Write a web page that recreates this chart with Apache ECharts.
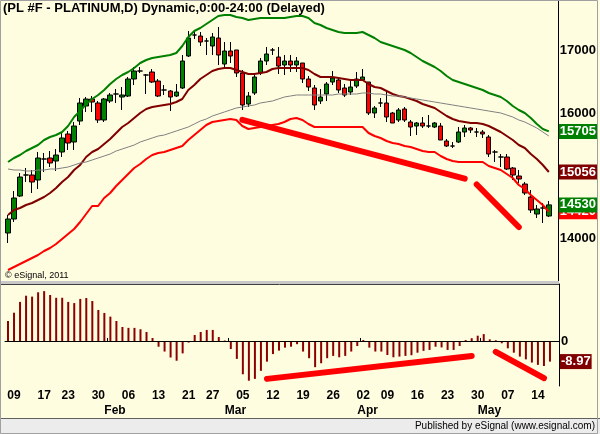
<!DOCTYPE html>
<html>
<head>
<meta charset="utf-8">
<script src="https://cdn.jsdelivr.net/npm/echarts@6/dist/echarts.min.js"></script>
<style>
  html, body { margin: 0; padding: 0; background: #fffde0; }
  #chart { width: 600px; height: 434px; }
</style>
</head>
<body>
<div id="chart"></div>
<script>
// trading days shown on the chart
var dates = [
  '2012-01-06','2012-01-09','2012-01-10','2012-01-11','2012-01-12','2012-01-13','2012-01-17','2012-01-18','2012-01-19','2012-01-20',
  '2012-01-23','2012-01-24','2012-01-25','2012-01-26','2012-01-27','2012-01-30','2012-01-31',
  '2012-02-01','2012-02-02','2012-02-03','2012-02-06','2012-02-07','2012-02-08','2012-02-09','2012-02-10','2012-02-13','2012-02-14',
  '2012-02-15','2012-02-16','2012-02-17','2012-02-21','2012-02-22','2012-02-23','2012-02-24','2012-02-27','2012-02-28','2012-02-29',
  '2012-03-01','2012-03-02','2012-03-05','2012-03-06','2012-03-07','2012-03-08','2012-03-09','2012-03-12','2012-03-13','2012-03-14',
  '2012-03-15','2012-03-16','2012-03-19','2012-03-20','2012-03-21','2012-03-22','2012-03-23','2012-03-26','2012-03-27','2012-03-28',
  '2012-03-29','2012-03-30',
  '2012-04-02','2012-04-03','2012-04-04','2012-04-05','2012-04-09','2012-04-10','2012-04-11','2012-04-12','2012-04-13','2012-04-16',
  '2012-04-17','2012-04-18','2012-04-19','2012-04-20','2012-04-23','2012-04-24','2012-04-25','2012-04-26','2012-04-27','2012-04-30',
  '2012-05-01','2012-05-02','2012-05-03','2012-05-04','2012-05-07','2012-05-08','2012-05-09','2012-05-10','2012-05-11','2012-05-14',
  '2012-05-15','2012-05-16'
];

var opens = [
  14080,14304,14672,15008,15008,14928,15264,15280,15232,15376,15664,15536,15872,16112,16224,16160,15888,16192,16304,16256,
  16272,16544,16672,16608,16656,16512,16368,16352,16272,16400,16912,17248,17232,17152,17072,17200,16784,16992,17008,16640,
  16144,16320,16640,16832,17008,16896,16768,16832,16768,16800,16544,16400,16192,16304,16496,16528,16400,16336,16432,16528,
  16496,16000,16160,16160,16000,15888,16064,15856,15792,15840,15792,15776,15792,15552,15472,15536,15696,15760,15696,15696,
  15616,15376,15296,15296,15120,14992,14864,14656,14384,14480,14352
];
var closes = [
  14304,14640,14976,15008,14896,15280,15264,15200,15328,15600,15520,15792,16160,16224,16176,15888,16224,16288,16304,16288,
  16544,16672,16672,16608,16496,16272,16368,16256,16336,16832,17200,17248,17136,17152,17216,16928,16992,16912,16640,16128,
  16272,16576,16832,16944,17008,16752,16832,16768,16832,16544,16416,16128,16256,16464,16560,16368,16288,16416,16544,16576,
  16000,16080,16160,15936,15840,16048,15888,15776,15840,15792,15792,15840,15568,15472,15472,15696,15760,15728,15696,15664,
  15344,15376,15296,15104,15008,14944,14720,14448,14464,14480,14530
];
var lows = [
  13920,14256,14656,14896,14720,14784,15056,15136,15072,15296,15408,15408,15808,16016,16016,15840,15856,16160,16160,16048,
  16256,16448,16640,16304,16480,16256,16288,16032,16256,16384,16896,17184,17072,16928,16928,16768,16736,16800,16576,16048,
  16096,16288,16608,16768,16928,16624,16608,16656,16656,16480,16352,16048,16144,16192,16448,16320,16256,16288,16400,16528,
  15968,15920,16096,15856,15840,15856,15856,15632,15648,15760,15760,15760,15568,15456,15440,15520,15616,15680,15616,15600,
  15296,15216,15136,15088,14928,14880,14688,14400,14320,14240,14336
];
var highs = [
  14368,14752,15040,15120,15088,15376,15360,15392,15424,15680,15712,15856,16240,16256,16272,16192,16240,16320,16384,16416,
  16576,16736,16736,16624,16704,16544,16448,16368,16464,16928,17312,17328,17296,17200,17280,17376,17136,17136,17008,16688,
  16336,16624,16880,17056,17040,17056,16928,16928,16896,16800,16592,16448,16384,16496,16672,16576,16464,16528,16656,16704,
  16496,16112,16240,16336,16016,16080,16096,15888,15856,15936,15968,15856,15840,15584,15536,15776,15808,15776,15760,15728,
  15648,15408,15344,15344,15136,15088,14896,14768,14528,14560,14592
];

// envelope lines
var upperBand = [
  15216,15280,15328,15392,15440,15488,15568,15616,15648,15696,15792,15936,16032,16144,16224,16288,16368,16464,16544,16608,
  16656,16720,16800,16848,16880,16896,16912,16928,16960,17072,17216,17312,17360,17424,17488,17552,17568,17568,17536,17520,
  17488,17504,17520,17520,17520,17520,17520,17536,17552,17552,17520,17440,17408,17360,17328,17296,17280,17280,17280,17296,
  17248,17200,17136,17104,17072,17040,17008,16960,16896,16832,16784,16736,16672,16592,16528,16496,16464,16432,16400,16368,
  16320,16288,16256,16192,16112,16048,16000,15920,15824,15744,15705
];
var midLine = [
  14368,14448,14480,14528,14560,14608,14656,14720,14800,14896,14976,15088,15168,15296,15376,15424,15504,15584,15680,15776,
  15840,15920,16000,16064,16096,16112,16128,16144,16176,16224,16368,16448,16544,16608,16672,16704,16720,16720,16688,16656,
  16624,16624,16640,16656,16704,16720,16720,16720,16720,16720,16688,16624,16576,16576,16576,16560,16544,16528,16528,16528,
  16464,16416,16400,16352,16304,16272,16256,16224,16192,16144,16112,16080,16016,15952,15904,15872,15856,15840,15840,15824,
  15792,15744,15696,15632,15568,15488,15440,15344,15264,15168,15056
];
var avgLine = [
  15104,15088,15088,15072,15072,15088,15088,15104,15104,15120,15136,15168,15200,15216,15248,15280,15312,15344,15392,15424,
  15456,15488,15536,15568,15600,15632,15648,15680,15712,15744,15776,15824,15872,15904,15952,15984,16016,16048,16080,16096,
  16112,16128,16160,16176,16192,16224,16256,16272,16288,16288,16288,16288,16288,16288,16288,16304,16304,16304,16304,16320,
  16320,16304,16304,16288,16272,16272,16256,16240,16224,16208,16192,16176,16160,16144,16128,16112,16096,16080,16064,16048,
  16032,16016,16000,15968,15936,15888,15856,15808,15760,15696,15632
];
var lowerBand = [
  13488,13536,13584,13632,13680,13728,13792,13840,13904,13984,14064,14144,14256,14384,14512,14512,14640,14720,14832,14928,
  15024,15120,15184,15264,15328,15360,15376,15408,15440,15472,15568,15648,15728,15808,15856,15872,15888,15904,15888,15792,
  15744,15760,15776,15792,15808,15824,15856,15904,15920,15888,15824,15776,15776,15776,15776,15776,15776,15776,15776,15776,
  15680,15632,15600,15552,15520,15504,15472,15456,15424,15392,15376,15376,15312,15264,15232,15216,15216,15216,15216,15216,
  15152,15120,15088,15024,14960,14848,14784,14688,14608,14528,14420
];

// lower panel oscillator
var oscillator = [
  8.7,12.3,17.0,19.7,19.3,21.2,21.7,20.0,18.8,18.8,17.0,16.5,18.3,18.7,17.4,13.5,12.2,10.6,8.7,6.1,
  5.7,5.7,5.1,3.9,1.3,-2.5,-4.6,-7.2,-8.6,-5.4,-0.7,2.6,3.9,4.8,4.8,1.7,0.2,-3.5,-7.8,-14.5,
  -17.3,-16.5,-13.0,-9.0,-5.7,-4.2,-2.9,-2.5,-1.4,-4.6,-7.5,-11.4,-9.7,-7.5,-6.5,-7.1,-6.5,-4.6,-2.2,0.4,
  -2.9,-4.6,-4.6,-6.1,-7.1,-6.8,-6.5,-6.2,-5.1,-4.3,-3.9,-2.5,-2.8,-3.9,-3.9,-2.2,0.4,1.2,2.3,3.0,
  0.7,0.3,-1.0,-3.2,-5.1,-6.8,-8.0,-9.4,-10.4,-10.9,-8.97
];

var priceTicks = [14000, 15000, 16000, 17000];
var oscTicks = [0];
var monthNames = ['Jan','Feb','Mar','Apr','May','Jun'];

// hand drawn trend lines: [date index, value]
var priceTrendA = [[39, 15890], [76, 14950]];
var priceTrendB = [[78, 14856], [85, 14176]];
var oscTrendA = [[43, -16.5], [77, -6.5]];
var oscTrendB = [[81, -4.7], [89, -16.2]];

var FONT = 'Liberation Sans, Arial, sans-serif';
var categories = dates.concat(['']);

function weekDay(s) { return new Date(s + 'T00:00:00Z').getUTCDay(); }
function isWeekStart(i) {
  if (i < 1 || i >= dates.length) return false;
  return weekDay(dates[i]) < weekDay(dates[i - 1]);
}
function isMonthEnd(i) {
  if (i < 0 || i >= dates.length - 1) return false;
  return dates[i].slice(5, 7) !== dates[i + 1].slice(5, 7);
}

var last = function (a) { return a[a.length - 1]; };
var lastUpper = last(upperBand), lastMid = last(midLine), lastLower = last(lowerBand);
var lastClose = last(closes), lastOsc = last(oscillator);

var candles = dates.map(function (d, i) {
  var item = { value: [opens[i], closes[i], lows[i], highs[i]] };
  if (opens[i] === closes[i]) {
    item.itemStyle = { color: '#000', color0: '#000', borderColor: '#000', borderColor0: '#000' };
  }
  return item;
});

function box(bg) {
  return { backgroundColor: bg, color: '#fff', fontWeight: 'bold', fontSize: 13, fontFamily: FONT,
           lineHeight: 13, padding: [1, 1, 1, 1] };
}
function trend(pts) {
  return [{ coord: [categories[pts[0][0]], pts[0][1]] }, { coord: [categories[pts[1][0]], pts[1][1]] }];
}
var trendStyle = { color: '#ff0000', width: 6, type: 'solid', cap: 'round' };

var chart = echarts.init(document.getElementById('chart'));
chart.setOption({
  animation: false,
  backgroundColor: '#fffde0',
  grid: [
    { left: 5, top: 0, width: 554, height: 282 },
    { left: 5, top: 284, width: 554, height: 102 }
  ],
  xAxis: [
    { type: 'category', gridIndex: 0, data: categories, show: false },
    {
      type: 'category', gridIndex: 1, data: categories,
      axisLine: { lineStyle: { color: '#000', width: 1 } },
      axisTick: { show: true, inside: true, length: 3, interval: function (i) { return isMonthEnd(i - 1); },
                  lineStyle: { color: '#000' } },
      axisLabel: {
        interval: function (i) { return isWeekStart(i); },
        formatter: function (v) { return v ? v.slice(8) : ''; },
        color: '#000', fontWeight: 'bold', fontSize: 12, fontFamily: FONT, margin: 4
      }
    },
    {
      type: 'category', gridIndex: 1, data: categories, position: 'bottom', offset: 15,
      axisLine: { show: false }, axisTick: { show: false },
      axisLabel: {
        interval: function (i) { return isMonthEnd(i); },
        formatter: function (v) {
          var k = dates.indexOf(v);
          if (k < 0 || k + 1 >= dates.length) return '';
          return monthNames[+dates[k + 1].slice(5, 7) - 1];
        },
        align: 'left', color: '#000', fontWeight: 'bold', fontSize: 12, fontFamily: FONT, margin: 4
      }
    }
  ],
  yAxis: [
    {
      type: 'value', gridIndex: 0, position: 'right', min: 13296, max: 17808,
      axisLine: { show: true, lineStyle: { color: '#000', width: 1 } },
      axisTick: { show: false },
      splitLine: { show: false },
      axisLabel: {
        customValues: priceTicks.concat([lastLower, lastMid, lastUpper, lastClose]),
        margin: 1,
        formatter: function (v) {
          if (v === lastClose) return '{cl|' + v + '}';
          if (v === lastUpper) return '{up|' + v + '}';
          if (v === lastMid) return '{md|' + v + '}';
          if (v === lastLower) return '{lo|' + v + '}';
          return '{t|' + v + '}';
        },
        rich: {
          t: { color: '#000', fontWeight: 'bold', fontSize: 13, fontFamily: FONT, padding: [1, 1, 1, 1] },
          up: box('#008000'), md: box('#800000'), lo: box('#ff0000'), cl: box('#008000')
        }
      }
    },
    {
      type: 'value', gridIndex: 1, position: 'right', min: -19.6, max: 24.8,
      axisLine: { show: true, lineStyle: { color: '#000', width: 1 } },
      axisTick: { show: false },
      splitLine: { show: false },
      axisLabel: {
        customValues: oscTicks.concat([lastOsc]),
        margin: 1,
        formatter: function (v) {
          if (v === lastOsc) return '{r|' + v.toFixed(2) + '}';
          return '{t|' + v + '}';
        },
        rich: {
          t: { color: '#000', fontWeight: 'bold', fontSize: 13, fontFamily: FONT, padding: [1, 1, 1, 1] },
          r: box('#800000')
        }
      }
    }
  ],
  series: [
    { name: 'upper', type: 'line', xAxisIndex: 0, yAxisIndex: 0, data: upperBand, symbol: 'none', silent: true,
      lineStyle: { color: '#008000', width: 2 } },
    { name: 'mid', type: 'line', xAxisIndex: 0, yAxisIndex: 0, data: midLine, symbol: 'none', silent: true,
      lineStyle: { color: '#800000', width: 2 } },
    { name: 'avg', type: 'line', xAxisIndex: 0, yAxisIndex: 0, data: avgLine, symbol: 'none', silent: true,
      lineStyle: { color: '#808080', width: 1 } },
    { name: 'lower', type: 'line', xAxisIndex: 0, yAxisIndex: 0, data: lowerBand, symbol: 'none', silent: true,
      lineStyle: { color: '#ff0000', width: 2 } },
    {
      name: 'PL', type: 'candlestick', xAxisIndex: 0, yAxisIndex: 0, data: candles, barWidth: 5,
      itemStyle: { color: '#008000', color0: '#ff0000', borderColor: '#000', borderColor0: '#000', borderWidth: 1 },
      markLine: {
        silent: true, symbol: ['none', 'none'], label: { show: false }, lineStyle: trendStyle,
        data: [trend(priceTrendA), trend(priceTrendB)]
      }
    },
    {
      name: 'osc', type: 'bar', xAxisIndex: 1, yAxisIndex: 1, data: oscillator, barWidth: 2,
      itemStyle: { color: '#8b0000' },
      markLine: {
        silent: true, symbol: ['none', 'none'], label: { show: false }, lineStyle: trendStyle,
        data: [
          { yAxis: 0, lineStyle: { color: '#000', width: 1, cap: 'butt' } },
          trend(oscTrendA), trend(oscTrendB)
        ]
      }
    }
  ],
  graphic: [
    { type: 'rect', shape: { x: 0, y: 281, width: 559, height: 3 }, style: { fill: '#c8c8c8' }, z: 10 },
    { type: 'line', shape: { x1: 0, y1: 284.5, x2: 559, y2: 284.5 }, style: { stroke: '#404040', lineWidth: 1 }, z: 10 },
    { type: 'rect', shape: { x: 0, y: 418, width: 600, height: 16 }, style: { fill: '#ececec' }, z: 10 },
    { type: 'line', shape: { x1: 0, y1: 418.5, x2: 600, y2: 418.5 }, style: { stroke: '#606060', lineWidth: 1 }, z: 10 },
    { type: 'rect', shape: { x: 0.5, y: 0.5, width: 597, height: 433 }, style: { fill: null, stroke: '#a0a0a0', lineWidth: 1 }, z: 10 },
    { type: 'text', x: 3, y: 2, z: 11,
      style: { text: '(PL #F - PLATINUM,D) Dynamic,0:00-24:00 (Delayed)', fill: '#000',
               font: 'bold 13px ' + FONT } },
    { type: 'text', x: 5, y: 271, z: 11,
      style: { text: '\u00a9 eSignal, 2011', fill: '#000', font: '9px ' + FONT } },
    { type: 'text', x: 595, y: 421, z: 11,
      style: { text: 'Published by eSignal (www.esignal.com)', fill: '#000', font: '10px ' + FONT, align: 'right' } }
  ]
});
</script>
</body>
</html>
